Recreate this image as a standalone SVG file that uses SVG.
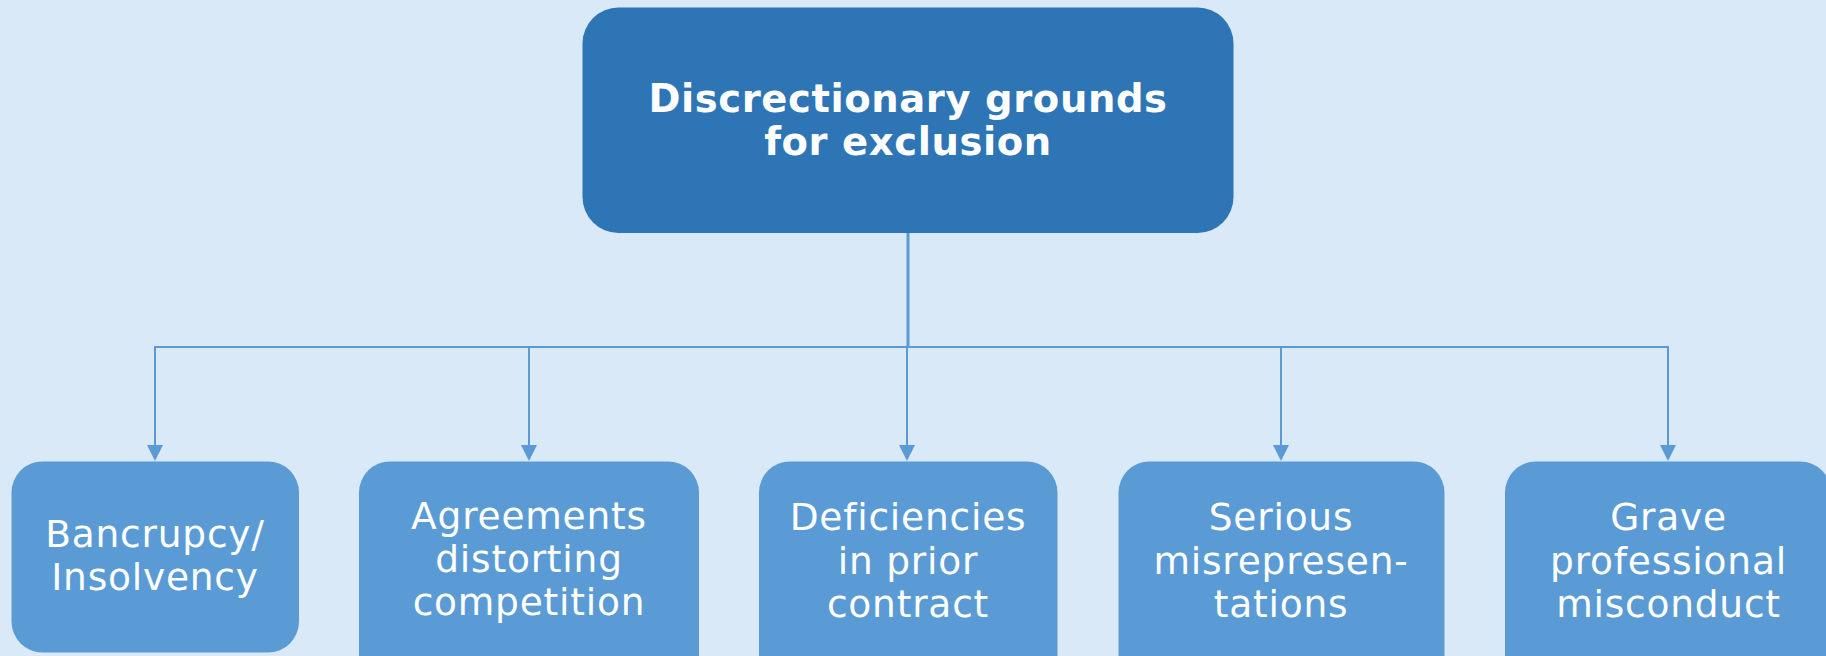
<svg xmlns="http://www.w3.org/2000/svg" width="1826" height="656" viewBox="0 0 1826 656">
<style>
.root{fill:#2e75b6}
.child{fill:#5b9bd5}
.t{font-family:"DejaVu Sans",Verdana,sans-serif;fill:#ffffff;text-anchor:middle}
.tb{font-size:38.5px;font-weight:bold;letter-spacing:0.6px}
.tc{font-size:37.5px;letter-spacing:0.8px}
.ln{stroke:#5b9bd5;stroke-width:2;fill:none}
</style>
<defs>
<marker id="arr" viewBox="0 0 16 16" refX="0" refY="8" markerWidth="16" markerHeight="16" markerUnits="userSpaceOnUse" orient="auto">
<path d="M0,0 L16,8 L0,16 z" fill="#5b9bd5"/>
</marker>
</defs>
<rect width="1826" height="656" fill="#dae9f8"/>
<g id="connectors">
<line class="ln" x1="908" y1="233" x2="908" y2="347" style="stroke-width:3"/>
<line class="ln" x1="155" y1="347" x2="1669" y2="347"/>
<line class="ln" x1="155" y1="346" x2="155" y2="445" marker-end="url(#arr)"/>
<line class="ln" x1="529" y1="347" x2="529" y2="445" marker-end="url(#arr)"/>
<line class="ln" x1="907" y1="347" x2="907" y2="445" marker-end="url(#arr)"/>
<line class="ln" x1="1281" y1="347" x2="1281" y2="445" marker-end="url(#arr)"/>
<line class="ln" x1="1668" y1="346" x2="1668" y2="445" marker-end="url(#arr)"/>
</g>
<g id="root">
<rect class="root" x="582.5" y="7.5" width="651" height="225.5" rx="36" ry="36"/>
<text class="t tb" x="908" y="111.5">Discrectionary grounds</text>
<text class="t tb" x="908" y="155">for exclusion</text>
</g>
<g id="n1">
<rect class="child" x="11.5" y="461.5" width="287.5" height="191" rx="31" ry="31"/>
<text class="t tc" x="155" y="547">Bancrupcy/</text>
<text class="t tc" x="155" y="590">Insolvency</text>
</g>
<g id="n2">
<rect class="child" x="359" y="461.5" width="340" height="230" rx="31" ry="31"/>
<text class="t tc" x="529" y="529">Agreements</text>
<text class="t tc" x="529" y="572">distorting</text>
<text class="t tc" x="529" y="615">competition</text>
</g>
<g id="n3">
<rect class="child" x="759" y="461.5" width="298.5" height="230" rx="31" ry="31"/>
<text class="t tc" x="908" y="530">Deficiencies</text>
<text class="t tc" x="908" y="573.5">in prior</text>
<text class="t tc" x="908" y="617">contract</text>
</g>
<g id="n4">
<rect class="child" x="1118.5" y="461.5" width="326" height="230" rx="31" ry="31"/>
<text class="t tc" x="1281" y="530">Serious</text>
<text class="t tc" x="1281" y="573.5">misrepresen-</text>
<text class="t tc" x="1281" y="617">tations</text>
</g>
<g id="n5">
<rect class="child" x="1505" y="461.5" width="326" height="230" rx="31" ry="31"/>
<text class="t tc" x="1668.5" y="530">Grave</text>
<text class="t tc" x="1668.5" y="573.5">professional</text>
<text class="t tc" x="1668.5" y="617">misconduct</text>
</g>
</svg>
